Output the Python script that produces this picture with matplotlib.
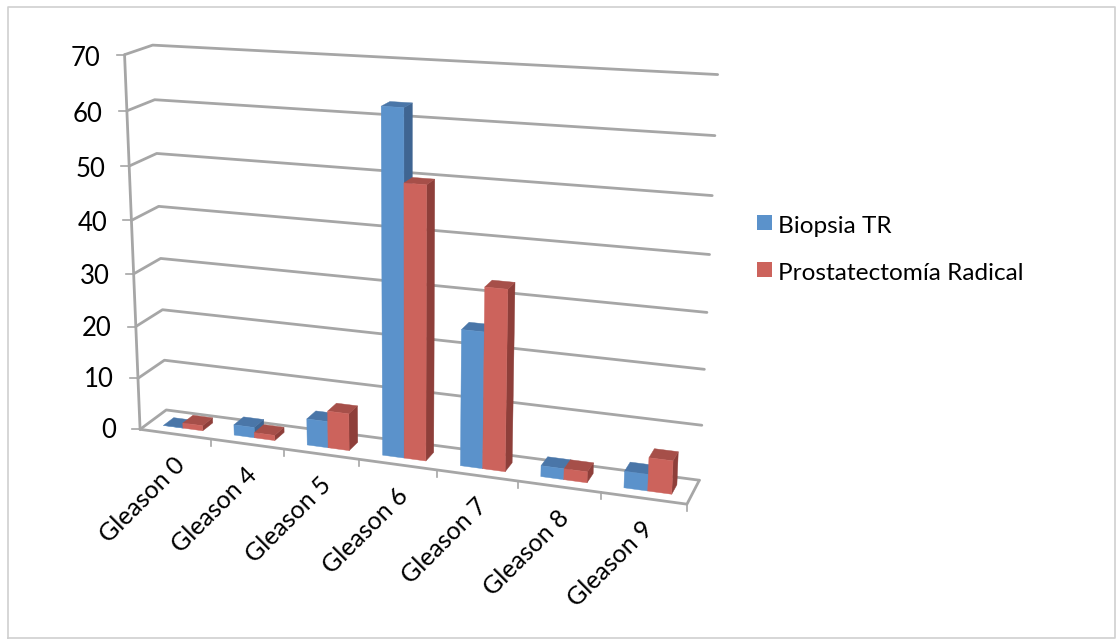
import numpy as np
from matplotlib import pyplot as plt

categories = ["Gleason 0", "Gleason 4", "Gleason 5", "Gleason 6", "Gleason 7", "Gleason 8", "Gleason 9"]
biopsia = [0, 2, 5, 63, 25, 2, 3]
prostatectomia = [1, 1, 7, 50, 33, 2, 6]
series_names = ["Biopsia TR", "Prostatectomía Radical"]
y_ticks = [0, 10, 20, 30, 40, 50, 60, 70]

BLUE = ("#5B92CB", "#3F6592", "#4A76A8")
RED = ("#CC635C", "#8E3F3A", "#A64F49")
GRID = "#A6A6A6"
FONT = "Lato"

# (category, depth, value) -> pixel pairs used to solve the perspective camera
camera_3d = np.array([
    (0, 0, 0), (0, 0, 70), (0, 0, 60), (0, 1, 0), (0, 1, 70), (0, 1, 60), (0, 1, 30),
    (7, 1, 70), (7, 1, 60), (7, 1, 30), (7, 1, 10), (7, 1, 0), (7, 0, 0),
    (1, 0, 0), (2, 0, 0), (3, 0, 0), (5, 0, 0), (6, 0, 0),
], dtype=float)
camera_px = np.array([
    (141, 428), (124, 54), (127, 110), (165, 411), (153, 45), (155, 101), (160, 259),
    (717, 75), (715, 136), (708, 311), (703, 425), (699, 478), (686, 505),
    (212, 438), (284, 449), (359, 460), (518, 482), (600, 494),
], dtype=float)


def solve_camera(pts, px):
    rows = []
    rhs = []
    for (x, d, z), (u, v) in zip(pts, px):
        rows.append([x, d, z, 1, 0, 0, 0, 0, -u * x, -u * d, -u * z])
        rows.append([0, 0, 0, 0, x, d, z, 1, -v * x, -v * d, -v * z])
        rhs += [u, v]
    sol = np.linalg.lstsq(np.array(rows), np.array(rhs), rcond=None)[0]
    return np.append(sol, 1).reshape(3, 4)


CAM = solve_camera(camera_3d, camera_px)


def project(x, d, z):
    p = CAM @ np.array([x, d, z, 1.0])
    return p[0] / p[2], p[1] / p[2]


def draw_line(ax, pts, lw=2.0, color=GRID):
    xy = np.array([project(*p) for p in pts])
    ax.plot(xy[:, 0], xy[:, 1], color=color, lw=lw, solid_capstyle="round", solid_joinstyle="round", zorder=1)


def draw_bar(ax, x0, x1, d0, d1, value, colors):
    front = [(x0, d0, 0), (x1, d0, 0), (x1, d0, value), (x0, d0, value)]
    side = [(x1, d0, 0), (x1, d1, 0), (x1, d1, value), (x1, d0, value)]
    top = [(x0, d0, value), (x1, d0, value), (x1, d1, value), (x0, d1, value)]
    for face, col in zip((side, top, front), (colors[1], colors[2], colors[0])):
        xy = np.array([project(*p) for p in face])
        ax.fill(xy[:, 0], xy[:, 1], color=col, lw=0.3, zorder=3)


def main():
    fig = plt.figure(figsize=(11.17, 6.42), dpi=100)
    ax = fig.add_axes([0, 0, 1, 1])
    ax.set_xlim(0, 1117)
    ax.set_ylim(642, 0)
    ax.axis("off")

    # chart frame
    ax.plot([8, 8, 1115, 1115, 8], [638, 7, 7, 638, 638], color="#D0D0D0", lw=1.2)

    n = len(categories)
    for t in y_ticks:
        draw_line(ax, [(0, 0, t), (0, 1, t), (n, 1, t)])
        u, v = project(0, 0, t)
        ax.plot([u - 8, u], [v, v], color=GRID, lw=1.2, zorder=1)
        ax.text(u - 24, v + 1 + 3 * t / 70, str(t), fontsize=18.5, family=FONT, ha="right", va="center", color="black")

    draw_line(ax, [(0, 0, 0), (0, 0, 70)])
    draw_line(ax, [(0, 0, 0), (n, 0, 0), (n, 1, 0)])

    for i, name in enumerate(categories):
        u, v = project(i + 1, 0, 0)
        ax.plot([u, u], [v, v + 7], color=GRID, lw=1.2, zorder=1)
        u, v = project(i + 0.5, 0, 0)
        ax.text(u - 2, v + 19, name, fontsize=18, family=FONT, rotation=45, rotation_mode="anchor",
                ha="right", va="top", color="black")

    for i in range(n):
        draw_bar(ax, i + 0.22, i + 0.5, 0.3, 0.7, biopsia[i], BLUE)
        draw_bar(ax, i + 0.5, i + 0.78, 0.3, 0.7, prostatectomia[i], RED)

    # legend
    for name, y, colors in zip(series_names, (225, 272), (BLUE, RED)):
        ax.fill([757, 772, 772, 757], [y - 10, y - 10, y + 5, y + 5], color=colors[0], lw=0)
        ax.text(778, y + 1.5, name, fontsize=17.6, family=FONT, ha="left", va="center", color="black")

    fig.savefig("out.png", dpi=100)


if __name__ == '__main__':
    main()
